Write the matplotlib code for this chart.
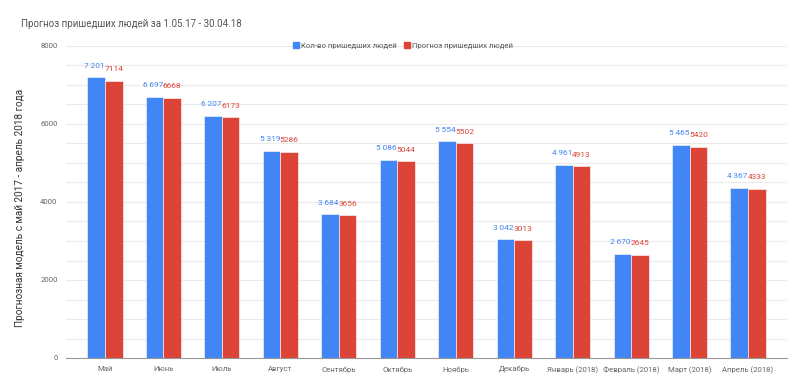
import numpy as np
import matplotlib.pyplot as plt
from matplotlib.lines import Line2D

months = ['Май', 'Июнь', 'Июль', 'Август', 'Сентябрь', 'Октябрь', 'Ноябрь',
          'Декабрь', 'Январь (2018)', 'Февраль (2018)', 'Март (2018)', 'Апрель (2018)']
actual = [7201, 6697, 6207, 5319, 3684, 5086, 5554, 3042, 4961, 2670, 5465, 4367]
forecast = [7114, 6668, 6173, 5286, 3656, 5044, 5502, 3013, 4913, 2645, 5420, 4333]

blue = '#4285F4'
red = '#DB4437'
plt.rcParams['font.family'] = ['Roboto', 'DejaVu Sans']

fig = plt.figure(figsize=(8.07, 3.9), dpi=100)
ax = fig.add_axes([66 / 807, 1 - 358 / 390, (787 - 66) / 807, (358 - 46) / 390])

x = np.arange(len(months))
w = 0.3
ax.bar(x - w / 2, actual, w, color=blue, edgecolor='white', linewidth=0.4, zorder=3)
ax.bar(x + w / 2, forecast, w, color=red, edgecolor='white', linewidth=0.4, zorder=3)

for xi, a, f in zip(x, actual, forecast):
    ax.text(xi - w / 2 - 0.03, a + 220, f'{a:,}'.replace(',', '\u2009'), ha='center',
            va='bottom', fontsize=6, color=blue)
    ax.text(xi + w / 2, f + 220, f'{f}', ha='center', va='bottom',
            fontsize=6, color=red)

ax.set_xlim(-0.667, 11.667)
ax.set_ylim(0, 8000)
ax.set_yticks([0, 2000, 4000, 6000, 8000])
ax.set_yticks(np.arange(0, 8001, 500), minor=True)
ax.set_xticks(x)
ax.set_xticklabels(months)
ax.tick_params(axis='both', length=0, labelsize=5.6, labelcolor='#666666', pad=6)
ax.tick_params(axis='y', which='minor', length=0)
ax.grid(axis='y', which='both', color='#ebebeb', linewidth=0.8, zorder=0)
for s in ['top', 'right', 'left']:
    ax.spines[s].set_visible(False)
ax.spines['bottom'].set_color('#999999')
ax.spines['bottom'].set_zorder(4)
ax.set_ylabel('Прогнозная модель с май 2017 - апрель 2018 года', fontsize=7.2,
              color='#333333')
ax.yaxis.set_label_coords(-(66 - 25) / 721, 0.48)

fig.text(21 / 807, 1 - 24 / 390, 'Прогноз пришедших людей за 1.05.17 - 30.04.18',
         fontsize=7, color='#555555', va='center')

handles = [Line2D([], [], marker='s', color=blue, linestyle='none', markersize=4),
           Line2D([], [], marker='s', color=red, linestyle='none', markersize=4)]
fig.legend(handles, ['Кол-во пришедших людей', 'Прогноз пришедших людей'],
           loc='center', bbox_to_anchor=(403 / 807, 1 - 46 / 390), ncol=2,
           frameon=False, fontsize=5.6, labelcolor='#555555', handletextpad=0.2,
           columnspacing=1.0, handlelength=0.8)

fig.savefig('out.png', dpi=100)
